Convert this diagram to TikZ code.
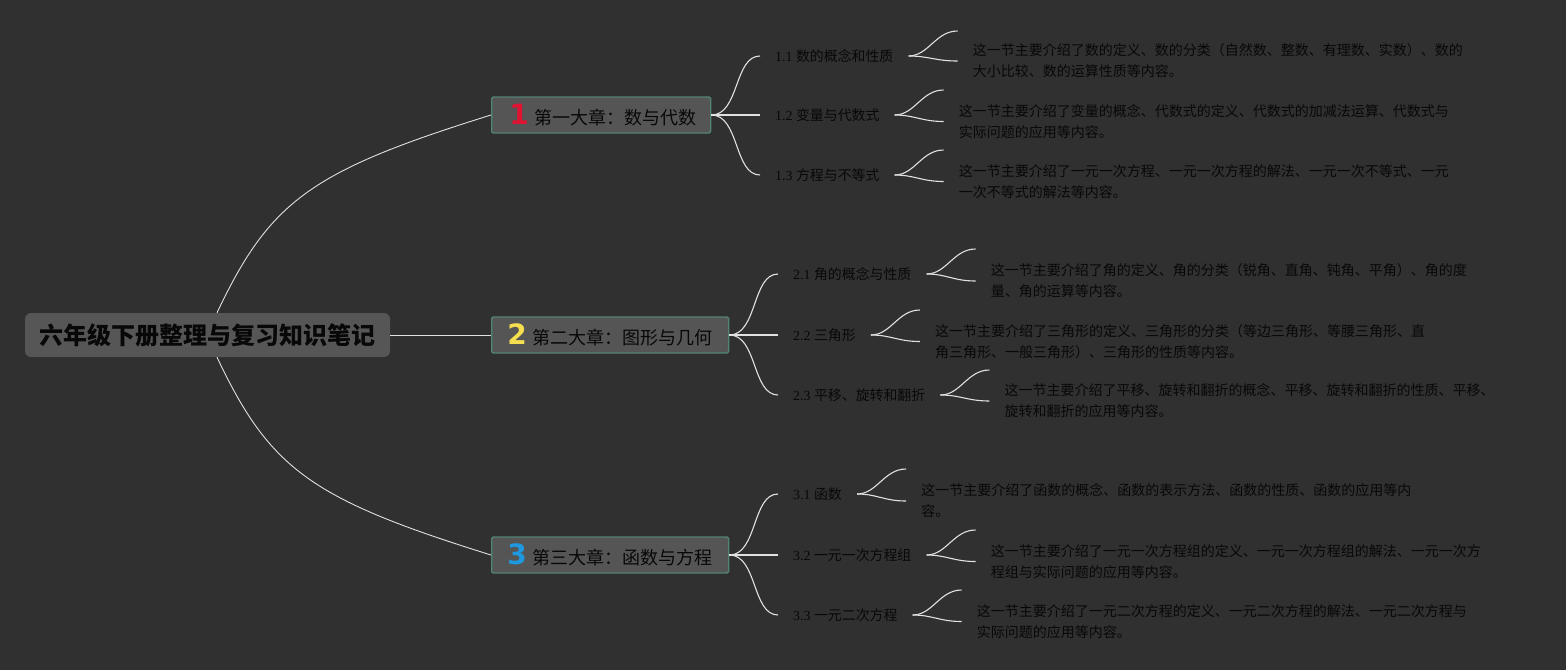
\documentclass[tikz,border=0pt]{standalone}
\usepackage{fontspec}
\setmainfont{Liberation Serif}
\newfontfamily\cjk{Noto Sans CJK SC}
\newfontfamily\numfont{DejaVu Sans}
\usetikzlibrary{calc}
\definecolor{bgc}{RGB}{48,48,48}
\definecolor{rootfill}{RGB}{86,86,86}
\definecolor{chfill}{RGB}{85,85,85}
\definecolor{chborder}{RGB}{82,132,116}
\definecolor{txt}{RGB}{8,8,8}
\definecolor{lnc}{RGB}{225,225,225}
\definecolor{nred}{RGB}{222,20,50}
\definecolor{nyellow}{RGB}{245,222,80}
\definecolor{nblue}{RGB}{30,152,222}
\begin{document}
\begin{tikzpicture}[x=1pt,y=-1pt,
  rootbox/.style={fill=rootfill, rounded corners=6pt, minimum width=365pt, minimum height=44pt, inner sep=0pt, text=txt, font=\cjk\bfseries\fontsize{24}{28}\selectfont},
  chapbox/.style={fill=chfill, draw=chborder, line width=1.4pt, rounded corners=1.5pt, minimum height=36pt, inner xsep=0pt, inner ysep=0pt, anchor=west, text=txt, font=\cjk\fontsize{18}{22}\selectfont},
  sec/.style={anchor=west, inner xsep=15pt, inner ysep=2pt, text=txt, font=\fontsize{13.9}{16}\selectfont},
  leaf/.style={anchor=west, inner xsep=15pt, inner ysep=1pt, align=left, text=txt, font=\cjk\fontsize{14}{21}\selectfont},
  conn/.style={draw=lnc, line width=0.9pt},
  bconn/.style={draw=lnc, line width=1.1pt}
]
\fill[bgc] (0,0) rectangle (1566,670);
\useasboundingbox (0,0) rectangle (1566,670);

% root
\node[rootbox] (root) at (207.5,335) {六年级下册整理与复习知识笔记};

% chapters
\node[chapbox, minimum width=219pt] (ch1) at (491,115) {\hspace{4pt}{\numfont\bfseries\fontsize{28}{28}\selectfont\color{nred}1}\hspace{6pt}第一大章：数与代数};
\node[chapbox, minimum width=237pt] (ch2) at (491,335) {{\numfont\bfseries\fontsize{28}{28}\selectfont\color{nyellow}2}\hspace{6pt}第二大章：图形与几何};
\node[chapbox, minimum width=237pt] (ch3) at (491,555) {{\numfont\bfseries\fontsize{28}{28}\selectfont\color{nblue}3}\hspace{6pt}第三大章：函数与方程};

\draw[conn] ([xshift=9.5pt]root.north) .. controls +(53,-112) and +(-180,56) .. (ch1.west);
\draw[conn] (root.east) -- (ch2.west);
\draw[conn] ([xshift=9.5pt]root.south) .. controls +(53,112) and +(-180,-56) .. (ch3.west);

% sections
\node[sec] (s11) at (760,56) {1.1 {\cjk 数的概念和性质}};
\node[sec] (s12) at (760,115) {1.2 {\cjk 变量与代数式}};
\node[sec] (s13) at (760,175) {1.3 {\cjk 方程与不等式}};
\node[sec] (s21) at (778,274) {2.1 {\cjk 角的概念与性质}};
\node[sec] (s22) at (778,335) {2.2 {\cjk 三角形}};
\node[sec] (s23) at (778,395) {2.3 {\cjk 平移、旋转和翻折}};
\node[sec] (s31) at (778,494) {3.1 {\cjk 函数}};
\node[sec] (s32) at (778,555) {3.2 {\cjk 一元一次方程组}};
\node[sec] (s33) at (778,615) {3.3 {\cjk 一元二次方程}};

\foreach \c/\a/\b/\d in {ch1/s11/s12/s13, ch2/s21/s22/s23, ch3/s31/s32/s33}{
  \draw[bconn] (\c.east) .. controls +(28,0) and +(-26,0) .. (\a.west);
  \draw[bconn] (\c.east) -- (\b.west);
  \draw[bconn] (\c.east) .. controls +(28,0) and +(-26,0) .. (\d.west);
}

% leaves
\node[leaf] (l11) at ($(s11.east)+(49,5)$) {这一节主要介绍了数的定义、数的分类（自然数、整数、有理数、实数）、数的\\大小比较、数的运算性质等内容。};
\node[leaf] (l12) at ($(s12.east)+(49,6.5)$) {这一节主要介绍了变量的概念、代数式的定义、代数式的加减法运算、代数式与\\实际问题的应用等内容。};
\node[leaf] (l13) at ($(s13.east)+(49,6.5)$) {这一节主要介绍了一元一次方程、一元一次方程的解法、一元一次不等式、一元\\一次不等式的解法等内容。};
\node[leaf] (l21) at ($(s21.east)+(49,7)$) {这一节主要介绍了角的定义、角的分类（锐角、直角、钝角、平角）、角的度\\量、角的运算等内容。};
\node[leaf] (l22) at ($(s22.east)+(49,6.5)$) {这一节主要介绍了三角形的定义、三角形的分类（等边三角形、等腰三角形、直\\角三角形、一般三角形）、三角形的性质等内容。};
\node[leaf] (l23) at ($(s23.east)+(49,6)$) {这一节主要介绍了平移、旋转和翻折的概念、平移、旋转和翻折的性质、平移、\\旋转和翻折的应用等内容。};
\node[leaf] (l31) at ($(s31.east)+(49,7)$) {这一节主要介绍了函数的概念、函数的表示方法、函数的性质、函数的应用等内\\容。};
\node[leaf] (l32) at ($(s32.east)+(49,6.5)$) {这一节主要介绍了一元一次方程组的定义、一元一次方程组的解法、一元一次方\\程组与实际问题的应用等内容。};
\node[leaf] (l33) at ($(s33.east)+(49,6.5)$) {这一节主要介绍了一元二次方程的定义、一元二次方程的解法、一元二次方程与\\实际问题的应用等内容。};

\foreach \s/\l in {s11/l11, s12/l12, s13/l13, s21/l21, s22/l22, s23/l23, s31/l31, s32/l32, s33/l33}{
  \coordinate (u\s) at ($(\s.east)+(49,-25)$);
  \draw[bconn] (\s.east) .. controls +(20,0) and +(-22,0) .. (u\s);
  \draw[bconn] (\s.east) .. controls +(20,0) and +(-22,0) .. (\l.west);
}
\end{tikzpicture}
\end{document}
